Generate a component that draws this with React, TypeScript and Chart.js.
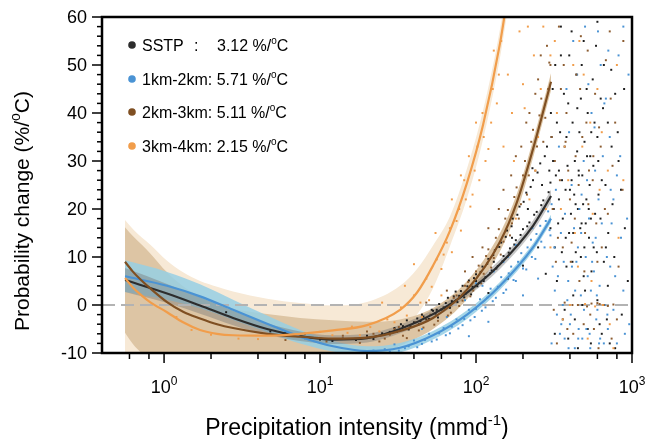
import React, { useEffect, useRef } from "react";
import { Chart, registerables } from "chart.js";

Chart.register(...registerables);

const FONT = '"Liberation Sans", Arial, Helvetica, sans-serif';

// ---------------- axis ticks ----------------
const xMajorTicks = [1, 10, 100, 1000];
const xMajorExponents = ["0", "1", "2", "3"];
const xMinorTicks = [0.6, 0.8, 2, 4, 6, 8, 20, 40, 60, 80, 200, 400, 600, 800];
const yMajorTicks = [-10, 0, 10, 20, 30, 40, 50, 60];
const yMinorTicks = [-8, -6, -4, -2, 2, 4, 6, 8, 12, 14, 16, 18, 22, 24, 26, 28, 32, 34, 36, 38, 42, 44, 46, 48, 52, 54, 56, 58];

// ---------------- legend ----------------
const seriesNames = ["SSTP", "1km-2km", "2km-3km", "3km-4km"];
const seriesRates = ["3.12", "5.71", "5.11", "2.15"];

// ---------------- zero reference ----------------
const zeroX = [0.4, 1000];
const zeroY = [0, 0];

// ---------------- fitted curves + confidence bands ----------------
const sstpX = [0.562, 1.045, 1.701, 2.769, 4.574, 7.443, 12.12, 20.01, 32.57, 53.02, 87.6, 142.5, 232, 302.6];
const sstpY = [5.2, 2.4, -0.1, -2.7, -5.0, -6.5, -7.2, -6.9, -5.0, -1.9, 2.6, 8.5, 16.5, 22.7];
const sstpHi = [7.7, 4.4, 1.6, -1.2, -3.8, -5.5, -6.3, -6.0, -4.1, -1.0, 3.5, 9.5, 17.6, 24.0];
const sstpLo = [2.7, 0.4, -1.8, -4.2, -6.2, -7.5, -8.1, -7.8, -5.9, -2.8, 1.7, 7.5, 15.4, 21.4];

const blueX = [0.562, 1.045, 1.701, 2.769, 4.574, 7.443, 12.12, 20.01, 32.57, 53.02, 87.6, 142.5, 232, 302.6];
const blueY = [6.0, 4.0, 1.8, -1.0, -3.9, -6.6, -8.6, -9.6, -8.9, -6.3, -2.0, 4.0, 12.0, 18.0];
const blueHi = [9.3, 6.9, 4.3, 1.1, -2.2, -5.2, -7.5, -8.6, -7.9, -5.4, -1.1, 4.8, 12.8, 18.8];
const blueLo = [2.7, 1.1, -0.7, -3.1, -5.6, -8.0, -9.7, -10.6, -9.9, -7.2, -2.9, 3.2, 11.2, 17.2];

const brownX = [0.562, 0.633, 0.723, 0.813, 1.045, 1.324, 1.701, 2.187, 2.769, 4.574, 7.443, 12.12, 20.01, 32.57, 53.02, 87.6, 142.5, 183.2, 232, 302.6];
const brownY = [9.0, 6.9, 5.0, 3.5, 0.6, -1.4, -2.8, -4.0, -4.8, -6.0, -6.6, -7.0, -6.8, -5.4, -2.7, 3.2, 13.2, 21.5, 32.5, 46.5];
const brownHi = [16.2, 14.3, 12.5, 10.8, 6.8, 3.9, 1.8, 0.3, -0.8, -1.9, -2.7, -3.2, -3.5, -3.0, -0.6, 5.0, 15.0, 23.3, 34.3, 48.3];
const brownLo = [-5.8, -8.2, -10.2, -12, -14, -15, -15.5, -16, -16, -16, -15, -13.5, -11.5, -8.5, -5.0, 1.2, 11.2, 19.5, 30.7, 44.7];

const orangeX = [0.562, 0.633, 0.723, 0.813, 1.045, 1.324, 1.701, 2.187, 2.769, 4.574, 7.443, 12.12, 20.01, 32.57, 41.87, 53.02, 68.15, 87.6, 110.9, 142.5, 160.4];
const orangeY = [5.6, 3.6, 1.9, 0.6, -1.5, -3.6, -5.2, -6.0, -6.3, -6.4, -6.0, -5.3, -4.2, -1.0, 2.6, 8.2, 15.5, 25.5, 37.5, 54.5, 65];
const orangeHi = [17.7, 15.8, 14.0, 12.6, 9.2, 6.8, 5.0, 3.8, 2.8, 1.3, 0.4, -0.1, 0.6, 4.0, 7.5, 12.4, 18.5, 28.5, 40.5, 57.5, 68];
const orangeLo = [-18, -17, -16.5, -16, -15, -14.5, -14, -13.5, -13, -12, -11, -10, -8.4, -5.5, -2.0, 3.5, 12.3, 22.3, 34.5, 51.5, 62];

// ---------------- scatter samples ----------------
const sstpPts: [number, number][] = [
  [2.5, -1.5], [4.8, -5.5], [6, -5.8], [8, -6.9], [10, -7.2], [12, -7.5], [14, -7.0], [17, -7.3], [20, -6.4], [22, -7.1], [25, -5.9], [28, -5.6], [30, -4.8],
  [33, -4.0], [36, -3.2], [38, -4.5], [42, -2.8], [45, -2.0], [48, -3.0], [52, -1.0], [55, -1.8], [58, 0.2], [62, -0.5], [66, 1.5], [70, 0.8], [74, 2.8],
  [78, 1.9], [82, 4.0], [86, 2.4], [90, 5.1], [95, 3.8], [100, 6.4], [105, 4.6], [110, 8.0], [115, 5.8], [120, 9.6], [126, 7.2], [132, 11.4], [138, 8.1],
  [145, 13.0], [150, 10.2], [158, 15.5], [165, 11.8], [172, 18.0], [180, 13.5], [190, 20.5], [200, 15.8], [210, 23.4], [220, 17.2], [232, 26.0],
  [245, 19.4], [258, 29.5], [270, 21.8], [285, 33.0], [300, 25.5], [120, 2.5], [160, 5.5], [200, 8.2], [250, 12.0], [280, 6.5], [230, 28.5],
  [31, -5.6], [34, -4.4], [37, -5.1], [40, -3.6], [43, -4.0], [46, -2.4], [50, -2.9], [53, -1.2], [57, -2.6], [60, -0.9], [64, 0.4], [68, -0.6],
  [72, 1.8], [76, 0.6], [80, 2.9], [84, 1.6], [88, 3.9], [93, 2.2], [97, 5.6], [102, 3.9], [107, 6.9], [112, 5.0], [118, 8.6], [123, 6.6],
  [129, 10.4], [135, 7.6], [141, 12.1], [148, 9.1], [155, 14.2], [162, 10.9], [169, 16.4], [176, 12.6], [184, 18.8], [193, 14.6], [202, 21.5],
  [213, 16.4], [224, 24.6], [236, 18.8], [248, 27.6], [262, 20.8], [276, 31.0], [292, 23.5], [305, 35], [295, 28], [265, 25], [215, 20],
  [170, 14], [130, 9], [100, 5], [75, 1], [56, -1], [44, -3.4],
  [310, 45], [320, 12], [330, 38], [340, 28], [350, 52], [360, 18], [370, 33], [380, 8], [390, 42], [400, 24], [410, 57], [420, 15], [430, 30],
  [440, 48], [450, 20], [460, 36], [470, 10], [480, 27], [490, 55], [500, 3], [510, 22], [520, 40], [530, 14], [540, 31], [560, 47], [580, 19],
  [600, 35], [620, -4], [640, 26], [660, 50], [680, 12], [700, 38], [720, -8], [750, 21], [780, 44], [820, 30], [860, -2], [900, 16], [330, 5],
  [360, -3], [390, -7], [420, 2], [450, -9], [480, 0], [520, -5], [550, 7], [600, 59], [640, -6], [700, 4], [340, 22], [380, 35], [410, 26],
  [445, 32], [470, 43], [505, 17], [535, 25], [565, 29], [610, 23], [660, 9], [740, 33], [310, 60], [350, 58], [300, 16], [315, 20], [325, 27],
  [355, 11], [375, 24], [395, 15], [415, 9], [435, 21], [455, 28], [475, 17], [495, 12], [515, 31], [545, 18], [575, 38], [595, 11], [630, 43],
  [302, 40], [312, 30], [322, 50], [336, 17], [346, 36], [356, 26], [366, 44], [376, 14], [386, 29], [396, 52], [406, 19], [416, 38], [426, 23],
  [436, 11], [446, 41], [456, 27], [466, 16], [476, 50], [486, 21], [496, 34], [512, 45], [528, 20], [548, 36], [568, 12], [588, 54], [608, 30],
  [628, 18], [652, 41], [676, 25], [704, 15], [736, 49], [770, 10], [810, 36], [850, 24], [890, 45], [940, 5], [320, -6], [370, -1], [430, -3],
  [490, 6], [545, -8], [600, 1], [690, -3], [780, -9],
];

const bluePts: [number, number][] = [
  [22, -9.5], [26, -9.2], [30, -8.2], [35, -9.0], [40, -7.4], [45, -8.1], [50, -6.0], [56, -7.2], [62, -4.8], [68, -5.9], [75, -3.0], [82, -4.2],
  [90, -1.0], [98, -2.5], [106, 1.2], [115, -0.5], [124, 3.4], [134, 1.5], [145, 5.8], [156, 3.2], [168, 8.0], [180, 5.0], [195, 10.8], [210, 7.4],
  [225, 13.6], [240, 9.6], [258, 16.5], [275, 12.0], [290, 19.5], [300, 14.5], [60, -1.0], [100, 4.5], [150, 9.0], [120, -3.5], [200, 2.0],
  [250, 5.5], [180, 12.5], [90, -6.5],
  [24, -10], [28, -9.7], [32, -9.5], [37, -8.6], [42, -8.8], [47, -7.3], [52, -7.6], [58, -5.9], [64, -6.3], [70, -4.5], [77, -4.9], [84, -2.9],
  [92, -3.2], [100, -0.8], [109, -1.2], [118, 1.5], [128, 0.8], [138, 3.8], [150, 2.5], [162, 6.6], [174, 5.2], [186, 9.0], [200, 7.6], [214, 12.0],
  [228, 10.0], [244, 14.8], [262, 13.2], [280, 17.5], [296, 15.6], [305, 21], [270, 20], [230, 16], [190, 13], [160, 10], [130, 7], [110, 4],
  [85, 1], [65, -2.5], [45, -5],
  [310, 8], [330, -2], [350, 15], [370, -7], [390, 5], [410, 25], [430, -9], [450, 12], [470, 2], [490, 30],
  [510, -5], [530, 18], [550, 40], [570, 7], [590, -3], [610, 22], [630, 50], [660, -8], [690, 10], [720, 35], [760, -1], [800, 27], [850, 14],
  [900, -6], [340, 33], [380, 45], [420, 55], [460, 20], [500, 58], [540, -9], [580, 28], [620, 4], [680, 43], [740, 17], [820, 52], [360, 0],
  [400, -4], [440, 9], [480, -7], [520, 6], [560, 13], [600, -1], [650, 31], [700, -5], [780, 6], [880, 58], [950, 48], [320, 3], [345, -6],
  [365, 9], [385, 1], [405, -2], [425, 16], [455, -5], [475, 23], [505, 10], [545, 3], [585, 14], [625, -7], [670, 0], [730, 24],
  [305, -8], [318, 12], [335, 6], [352, -4], [372, 19], [392, -9], [412, 8], [432, 3], [452, -7], [472, 15], [492, -1], [515, 26], [535, -6],
  [555, 9], [575, 37], [595, 2], [615, -8], [640, 17], [665, 42], [695, -2], [725, 8], [760, 22], [800, -8], [840, 31], [880, 3], [930, 18],
  [960, -4], [325, 24], [395, 36], [445, 48], [525, 46], [605, 57], [705, 53],
];

const brownPts: [number, number][] = [
  [6, -7.3], [8, -6.0], [11, -7.6], [14, -6.4], [18, -7.9], [22, -6.0], [26, -7.0], [30, -5.0], [34, -6.4], [38, -4.2], [43, -5.3], [48, -2.8],
  [54, -4.1], [60, -1.0], [66, -2.2], [72, 1.5], [78, -0.2], [85, 4.0], [92, 1.8], [100, 7.0], [108, 4.5], [116, 10.2], [125, 7.8], [134, 14.0],
  [144, 10.5], [154, 18.0], [165, 14.5], [176, 22.5], [188, 18.0], [200, 27.0], [212, 23.0], [226, 34.0], [240, 28.0], [255, 39.5], [270, 34.0],
  [290, 45.0], [180, 31], [150, 24], [210, 38], [120, 16], [95, 10], [240, 44], [260, 52],
  [20, -5.5], [24, -7.6], [28, -6.2], [32, -4.6], [36, -6.9], [41, -3.6], [46, -4.7], [51, -2.0], [57, -3.3], [63, -0.5], [69, -1.6], [75, 2.0],
  [82, 0.9], [89, 4.8], [96, 3.0], [104, 8.2], [112, 6.5], [120, 11.6], [130, 9.8], [140, 15.8], [150, 13.2], [160, 19.8], [170, 17.0], [182, 24.5],
  [194, 21.0], [206, 30.0], [218, 27.0], [232, 36.5], [246, 33.0], [262, 43.0], [278, 39.0], [295, 50.5], [285, 54], [250, 47], [220, 40],
  [195, 33], [168, 27], [140, 20], [110, 12], [85, 7], [65, 3], [48, 0.5],
  [300, 50], [320, 30], [340, 58], [360, 12], [380, 40],
  [400, 22], [420, -6], [440, 48], [460, 5], [480, 35], [500, 15], [520, 53], [540, -2], [560, 26], [580, 44], [600, 9], [630, 33], [660, 0],
  [700, 19], [740, -7], [780, 38], [820, 8], [870, 24], [330, -8], [370, 0.5], [450, 0], [550, 0.3], [610, -9], [390, 28], [470, 56], [510, 38],
  [590, 17], [680, 51], [750, 29], [350, 45], [430, 18], [490, -4], [640, 12], [720, 57], [310, 20], [335, 14], [375, 34], [405, 9], [455, 25],
  [525, 21], [565, 31], [620, 0.2], [305, 35], [325, 9], [345, 26], [365, 50], [385, -5], [410, 13], [435, 31], [465, 45], [495, 7], [530, 28],
  [570, -5], [615, 37], [670, 20], [730, 43], [800, -3], [880, 55], [315, -1], [415, 0], [515, -0.3], [600, 0.4], [700, -0.2], [760, 0.1],
];

const orangePts: [number, number][] = [
  [1.5, -5.2], [3.0, -7.0], [6.0, -6.5], [8.5, -6.9], [12, -6.3], [15, -5.8], [18, -6.3], [21, -4.6], [24, -5.5], [27, -3.0], [30, -3.6], [33, -0.5],
  [36, -2.2], [40, 2.0], [44, 0.5], [48, 5.5], [52, 3.8], [56, 9.5], [60, 7.5], [65, 13.0], [70, 11.0], [75, 17.5], [80, 15.5], [86, 22.0],
  [92, 20.5], [98, 28.0], [105, 26.0], [112, 35.0], [120, 32.5], [128, 45.0], [136, 42.0], [145, 55.0], [40, 8.5], [55, 15], [70, 22], [90, 31],
  [110, 40], [130, 53], [80, 27], [100, 38], [60, 2], [45, -2.5], [25, 0.5], [35, 4], [160, 48], [175, 30], [190, 57], [205, 41], [220, 22],
  [235, 52], [250, 35], [180, 18], [200, 46], [150, 33], [270, 58], [300, 12], [330, 40], [360, -3], [390, 26], [420, 50], [450, 8], [480, 33],
  [520, -7], [560, 19], [600, 45], [650, 0], [700, 28], [760, -9], [820, 14], [350, 20], [460, 55], [540, 38], [620, 24], [300, 52], [400, 0],
  [500, 0.2], [580, -0.3],
  [1.2, -2.5], [2.0, -6.2], [4.0, -7.1], [10, -5.6], [16, -4.5], [50, 1.0], [62, 10.5], [68, 16], [78, 20], [84, 26], [95, 23], [102, 33],
  [115, 30], [125, 38], [140, 48], [148, 60], [170, 40], [215, 58], [240, 28], [260, 45], [280, 20], [320, 55], [370, 33], [430, 15], [490, 48],
  [550, 5], [640, 36], [720, -4], [800, 50], [880, 26],
];

// ---------------- colours ----------------
const C_BLACK = "#2d2d2d";
const C_BLUE = "#4a93d4";
const C_BROWN = "#7f4f22";
const C_ORANGE = "#f19d4b";

type Seg = { t: string; sup?: boolean };

function segFont(size: number, sup?: boolean) {
  return `${sup ? Math.round(size * 0.65) : size}px ${FONT}`;
}
function richWidth(ctx: CanvasRenderingContext2D, segs: Seg[], size: number) {
  let w = 0;
  for (const s of segs) {
    ctx.font = segFont(size, s.sup);
    w += ctx.measureText(s.t).width;
  }
  return w;
}
function drawRich(ctx: CanvasRenderingContext2D, segs: Seg[], x: number, y: number, size: number, align: "left" | "center" | "right") {
  const w = richWidth(ctx, segs, size);
  let cx = align === "center" ? x - w / 2 : align === "right" ? x - w : x;
  ctx.textAlign = "left";
  ctx.textBaseline = "alphabetic";
  for (const s of segs) {
    ctx.font = segFont(size, s.sup);
    ctx.fillText(s.t, cx, s.sup ? y - size * 0.42 : y);
    cx += ctx.measureText(s.t).width;
  }
}

const toXY = (xs: number[], ys: number[]) => xs.map((x, i) => ({ x, y: ys[i] }));
const toPts = (p: [number, number][]) => p.map(([x, y]) => ({ x, y }));

const axesPlugin = {
  id: "customAxes",
  afterDraw(chart: any) {
    const { ctx, chartArea: a, scales } = chart;
    const xs = scales.x;
    const ys = scales.y;
    ctx.save();
    ctx.strokeStyle = "#000";
    ctx.fillStyle = "#000";
    ctx.lineWidth = 1.5;
    for (const v of yMajorTicks) {
      const p = ys.getPixelForValue(v);
      ctx.beginPath();
      ctx.moveTo(a.left - 10, p);
      ctx.lineTo(a.left, p);
      ctx.stroke();
    }
    for (const v of yMinorTicks) {
      const p = ys.getPixelForValue(v);
      ctx.beginPath();
      ctx.moveTo(a.left - 5, p);
      ctx.lineTo(a.left, p);
      ctx.stroke();
    }
    for (const v of xMajorTicks) {
      const p = xs.getPixelForValue(v);
      ctx.beginPath();
      ctx.moveTo(p, a.bottom);
      ctx.lineTo(p, a.bottom + 10);
      ctx.stroke();
    }
    for (const v of xMinorTicks) {
      const p = xs.getPixelForValue(v);
      ctx.beginPath();
      ctx.moveTo(p, a.bottom);
      ctx.lineTo(p, a.bottom + 6);
      ctx.stroke();
    }
    ctx.lineWidth = 2.5;
    ctx.strokeRect(a.left, a.top, a.right - a.left, a.bottom - a.top);

    ctx.font = `18px ${FONT}`;
    ctx.textAlign = "right";
    ctx.textBaseline = "middle";
    for (const v of yMajorTicks) {
      ctx.fillText(String(v), a.left - 15, ys.getPixelForValue(v) + 1);
    }
    xMajorTicks.forEach((v, i) => {
      drawRich(ctx, [{ t: "10" }, { t: xMajorExponents[i], sup: true }], xs.getPixelForValue(v), a.bottom + 40, 18, "center");
    });
    drawRich(ctx, [{ t: "Precipitation intensity (mmd" }, { t: "-1", sup: true }, { t: ")" }], 357, a.bottom + 82, 23, "center");
    ctx.save();
    ctx.translate(29, 211);
    ctx.rotate(-Math.PI / 2);
    drawRich(ctx, [{ t: "Probability change (%/" }, { t: "o", sup: true }, { t: "C)" }], 0, 0, 21, "center");
    ctx.restore();

    const colors = [C_BLACK, C_BLUE, C_BROWN, C_ORANGE];
    const rowsY = [45, 79, 112, 146];
    seriesNames.forEach((name, i) => {
      const cy = rowsY[i];
      ctx.fillStyle = colors[i];
      ctx.beginPath();
      ctx.arc(132, cy, 3.8, 0, Math.PI * 2);
      ctx.fill();
      ctx.fillStyle = "#000";
      const base = cy + 6;
      const rate: Seg[] = [{ t: seriesRates[i] + " %/" }, { t: "o", sup: true }, { t: "C" }];
      if (i === 0) {
        drawRich(ctx, [{ t: name }], 142, base, 16, "left");
        drawRich(ctx, [{ t: ":" }], 194, base, 16, "left");
        drawRich(ctx, rate, 217, base, 16, "left");
      } else {
        drawRich(ctx, [{ t: name + ": " }, ...rate], 142, base, 16, "left");
      }
    });
    ctx.restore();
  },
};

function band(xs: number[], lo: number[], hi: number[], color: string, order: number) {
  const common = {
    borderColor: "transparent",
    borderWidth: 0,
    pointRadius: 0,
    cubicInterpolationMode: "monotone",
    order,
    clip: 0,
  };
  return [
    { ...common, data: toXY(xs, hi), backgroundColor: color, fill: "+1" },
    { ...common, data: toXY(xs, lo), fill: false },
  ];
}
function line(xs: number[], ys: number[], color: string) {
  return {
    data: toXY(xs, ys),
    borderColor: color,
    borderWidth: 2.2,
    pointRadius: 0,
    fill: false,
    cubicInterpolationMode: "monotone",
    order: 1,
    clip: 0,
  };
}
function scatter(p: [number, number][], color: string) {
  return {
    data: toPts(p),
    showLine: false,
    pointStyle: "rect",
    pointRadius: 1.4,
    pointBorderWidth: 0,
    pointBackgroundColor: color,
    borderColor: color,
    backgroundColor: color,
    order: 2,
    clip: 0,
  };
}

export default function App() {
  const ref = useRef<HTMLCanvasElement>(null);
  useEffect(() => {
    const datasets: any[] = [
      ...band(orangeX, orangeLo, orangeHi, "rgb(247,233,214)", 9),
      ...band(brownX, brownLo, brownHi, "rgb(221,197,164)", 8),
      ...band(blueX, blueLo, blueHi, "rgba(150,207,228,0.85)", 7),
      ...band(sstpX, sstpLo, sstpHi, "rgba(120,120,120,0.42)", 6),
      {
        data: toXY(zeroX, zeroY),
        borderColor: "#b3b3b3",
        borderWidth: 2,
        borderDash: [13, 6],
        pointRadius: 0,
        fill: false,
        order: 3,
        clip: 0,
      },
      scatter(orangePts, C_ORANGE),
      scatter(brownPts, "#8c5c30"),
      scatter(bluePts, C_BLUE),
      scatter(sstpPts, "#1e1e1e"),
      line(orangeX, orangeY, C_ORANGE),
      line(brownX, brownY, C_BROWN),
      line(blueX, blueY, C_BLUE),
      line(sstpX, sstpY, C_BLACK),
    ];
    const chart = new Chart(ref.current as HTMLCanvasElement, {
      type: "line",
      data: { datasets },
      options: {
        responsive: false,
        animation: false,
        devicePixelRatio: 1,
        layout: { padding: { left: 102, right: 14, top: 17, bottom: 86 } },
        scales: {
          x: { type: "logarithmic", min: 0.4, max: 1000, display: false },
          y: { type: "linear", min: -10, max: 60, display: false },
        },
        plugins: { legend: { display: false }, tooltip: { enabled: false } },
      } as any,
      plugins: [axesPlugin],
    });
    return () => chart.destroy();
  }, []);
  return (
    <div style={{ position: "fixed", left: 0, top: 0, width: 646, height: 439, background: "#fff" }}>
      <canvas ref={ref} width={646} height={439} style={{ display: "block", width: 646, height: 439 }} />
    </div>
  );
}
